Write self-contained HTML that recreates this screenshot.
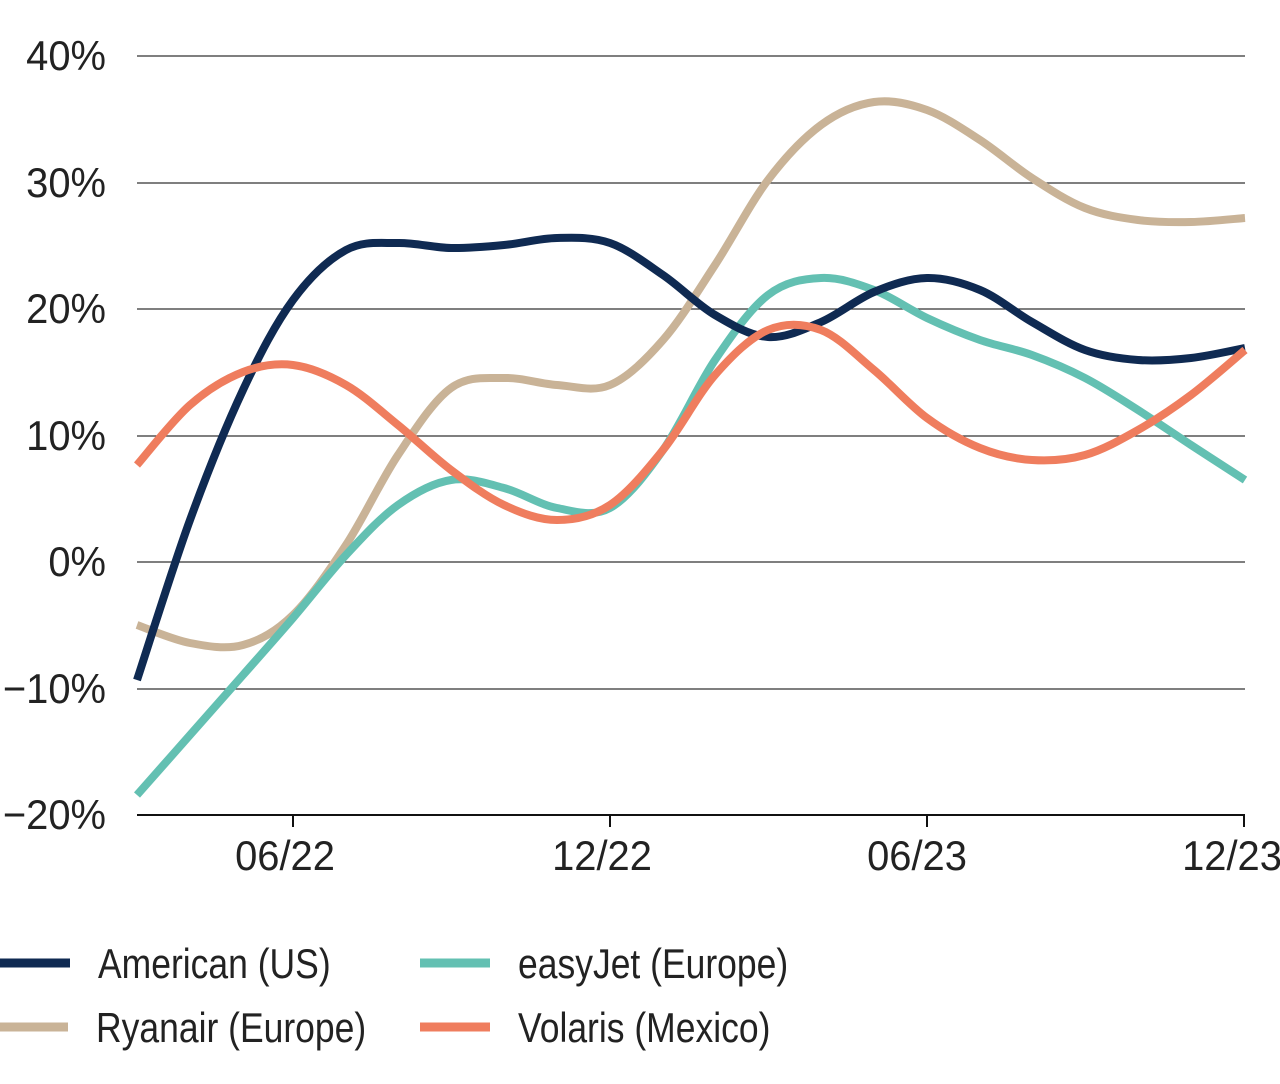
<!DOCTYPE html>
<html><head><meta charset="utf-8"><style>
html,body{margin:0;padding:0;background:#fff;}
svg{display:block}
text{font-family:"Liberation Sans",sans-serif;fill:#222;}
</style></head><body>
<svg id="s" width="1280" height="1084" viewBox="0 0 1280 1084" xmlns="http://www.w3.org/2000/svg">
<g stroke="#333" stroke-width="1.2">
<line x1="137" y1="56" x2="1245" y2="56"/>
<line x1="137" y1="183" x2="1245" y2="183"/>
<line x1="137" y1="309" x2="1245" y2="309"/>
<line x1="137" y1="436" x2="1245" y2="436"/>
<line x1="137" y1="562" x2="1245" y2="562"/>
<line x1="137" y1="689" x2="1245" y2="689"/>
</g>
<line x1="137" y1="815" x2="1245" y2="815" stroke="#111" stroke-width="2"/>
<g stroke="#111" stroke-width="2">
<line x1="293" y1="815" x2="293" y2="827"/><line x1="610" y1="815" x2="610" y2="827"/>
<line x1="927" y1="815" x2="927" y2="827"/><line x1="1244" y1="815" x2="1244" y2="827"/>
</g>
<g font-size="42" text-anchor="end">
<text transform="translate(106,70) scale(0.95,1)">40%</text>
<text transform="translate(106,197) scale(0.95,1)">30%</text>
<text transform="translate(106,323) scale(0.95,1)">20%</text>
<text transform="translate(106,450) scale(0.95,1)">10%</text>
<text transform="translate(106,576) scale(0.95,1)">0%</text>
<text transform="translate(106,703) scale(0.95,1)">−10%</text>
<text transform="translate(106,829) scale(0.95,1)">−20%</text>
</g>
<g font-size="42" text-anchor="middle">
<text transform="translate(285,870) scale(0.95,1)">06/22</text>
<text transform="translate(602,870) scale(0.95,1)">12/22</text>
<text transform="translate(917,870) scale(0.95,1)">06/23</text>
<text transform="translate(1232,870) scale(0.95,1)">12/23</text>
</g>
<g id="series" fill="none" stroke-width="8" stroke-linecap="butt"></g>
<g stroke-width="9">
<line x1="0" y1="963" x2="70" y2="963" stroke="#0f2a52"/>
<line x1="0" y1="1027" x2="68" y2="1027" stroke="#c9b397"/>
<line x1="420" y1="963" x2="490" y2="963" stroke="#63c0b2"/>
<line x1="420" y1="1027" x2="490" y2="1027" stroke="#ef7d5e"/>
</g>
<g font-size="42">
<text transform="translate(98,978) scale(0.845,1)">American (US)</text>
<text transform="translate(96,1042) scale(0.845,1)">Ryanair (Europe)</text>
<text transform="translate(518,978) scale(0.845,1)">easyJet (Europe)</text>
<text transform="translate(518,1042) scale(0.845,1)">Volaris (Mexico)</text>
</g>
</svg>
<script>
var xs=[137,190,243,293,346,398,451,504,557,610,663,715,768,821,874,927,980,1032,1085,1138,1191,1245];
var data=[
["#c9b397",[625,643,645,615,545,455,388,378,385,385,340,265,180,125,102,110,140,178,208,220,222,218]],
["#63c0b2",[795,735,675,618,555,505,480,488,508,508,450,360,295,278,290,318,340,355,378,410,445,480]],
["#0f2a52",[680,520,390,300,250,243,248,245,238,243,275,315,337,322,292,278,290,322,350,360,358,348]],
["#ef7d5e",[465,405,372,365,385,425,470,505,520,505,450,375,330,330,370,418,448,460,455,430,395,350]]
];
var g=document.getElementById('series');
data.forEach(function(d){
 var ys=d[1],p=xs.map(function(x,i){return [x,ys[i]];});
 var s="M"+p[0][0]+","+p[0][1];
 for(var i=0;i<p.length-1;i++){
  var p0=p[Math.max(i-1,0)],p1=p[i],p2=p[i+1],p3=p[Math.min(i+2,p.length-1)];
  var c1x=p1[0]+(p2[0]-p0[0])/6,c1y=p1[1]+(p2[1]-p0[1])/6;
  var c2x=p2[0]-(p3[0]-p1[0])/6,c2y=p2[1]-(p3[1]-p1[1])/6;
  s+=" C"+c1x+","+c1y+" "+c2x+","+c2y+" "+p2[0]+","+p2[1];
 }
 var e=document.createElementNS("http://www.w3.org/2000/svg","path");
 e.setAttribute("d",s);e.setAttribute("stroke",d[0]);g.appendChild(e);
});
</script>
</body></html>
